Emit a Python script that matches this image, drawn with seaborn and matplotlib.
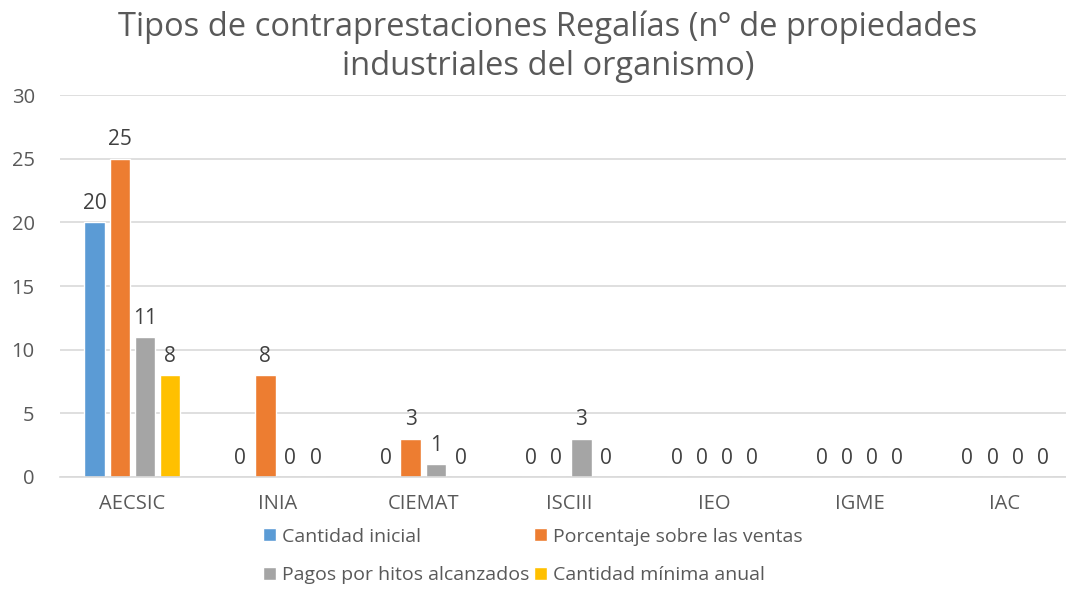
import matplotlib
matplotlib.use("Agg")
import matplotlib.pyplot as plt
import seaborn as sns
import pandas as pd
from matplotlib.patches import Patch

# --- Datos ---
organismos = ["AECSIC", "INIA", "CIEMAT", "ISCIII", "IEO", "IGME", "IAC"]
series = ["Cantidad inicial", "Porcentaje sobre las ventas",
          "Pagos por hitos alcanzados", "Cantidad mínima anual"]
cantidad_inicial = [20, 0, 0, 0, 0, 0, 0]
porcentaje_ventas = [25, 8, 3, 0, 0, 0, 0]
pagos_hitos = [11, 0, 1, 3, 0, 0, 0]
cantidad_minima = [8, 0, 0, 0, 0, 0, 0]
colores = ["#5B9BD5", "#ED7D31", "#A5A5A5", "#FFC000"]

valores = [cantidad_inicial, porcentaje_ventas, pagos_hitos, cantidad_minima]
df = pd.DataFrame([
    {"organismo": org, "tipo": s, "valor": v}
    for s, vals in zip(series, valores)
    for org, v in zip(organismos, vals)
])

sns.set_theme(style="white")
plt.rcParams["font.family"] = ["Open Sans", "DejaVu Sans"]
gris_txt = "#595959"

fig = plt.figure(figsize=(10.66, 5.94), dpi=100)
ax = fig.add_axes([0.056, 0.197, 0.955, 0.643])

sns.barplot(data=df, x="organismo", y="valor", hue="tipo",
            order=organismos, hue_order=series, palette=colores,
            width=0.69, gap=0.18, saturation=1, legend=False, ax=ax)

for cont in ax.containers:
    ax.bar_label(cont, fmt="%g", padding=6, fontsize=15, color="#404040")

ax.set_ylim(0, 30)
ax.set_yticks(range(0, 31, 5))
ax.yaxis.grid(True, color="#D9D9D9", linewidth=1.2)
ax.set_axisbelow(True)
for s in ["top", "right", "left"]:
    ax.spines[s].set_visible(False)
ax.spines["bottom"].set_color("#D9D9D9")
ax.spines["bottom"].set_linewidth(1.2)
ax.tick_params(axis="both", length=0, labelsize=14.5, colors=gris_txt)
ax.tick_params(axis="x", pad=12)
ax.tick_params(axis="y", pad=18)
ax.set_xlabel("")
ax.set_ylabel("")

fig.suptitle("Tipos de contraprestaciones Regalías (nº de propiedades\n"
             "industriales del organismo)",
             x=0.514, y=0.982, fontsize=23.5, color=gris_txt, linespacing=1.25)

# leyenda en dos filas (orden por filas)
handles = [Patch(facecolor=c) for c in colores]
orden = [0, 2, 1, 3]
fig.legend([handles[i] for i in orden], [series[i] for i in orden],
           ncol=2, loc="upper left", bbox_to_anchor=(0.238, 0.128),
           frameon=False, fontsize=14, labelcolor=gris_txt,
           handlelength=0.65, handleheight=0.65, handletextpad=0.3,
           columnspacing=0.25, labelspacing=1.05, borderpad=0)

fig.savefig("out.png", dpi=100)
plt.close(fig)
